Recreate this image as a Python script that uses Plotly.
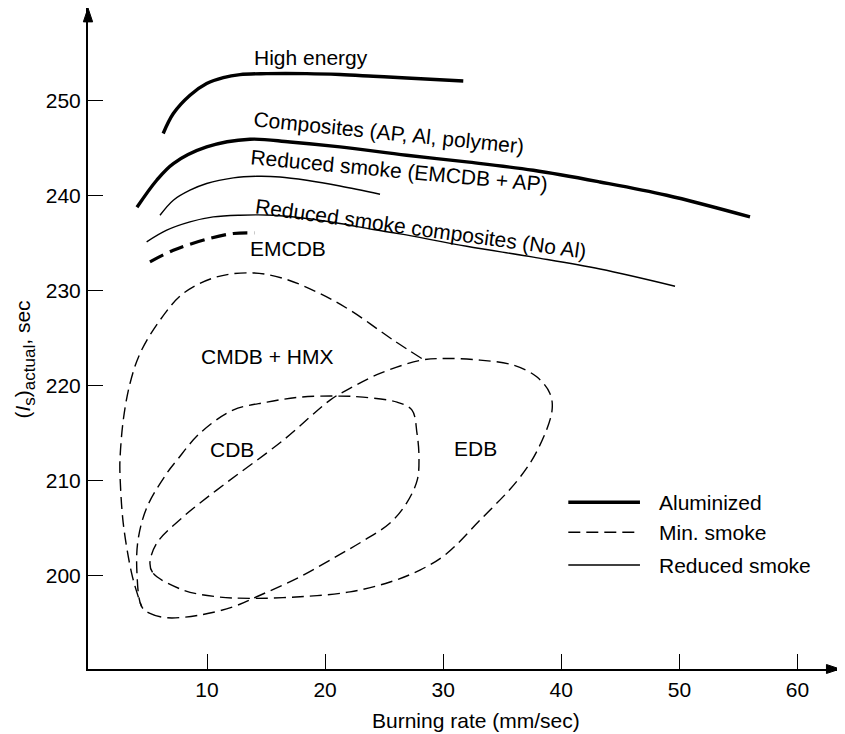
import plotly.graph_objects as go

# ---------------- data ----------------
high_energy_x = [6.29, 7.15, 8.56, 9.97, 11.38, 12.79, 15.05, 18.44, 21.26, 24.08, 26.9, 31.7]
high_energy_y = [246.57, 248.67, 250.6, 251.83, 252.46, 252.78, 252.88, 252.88, 252.78, 252.6, 252.42, 252.1]

composites_x = [4.07, 5.74, 7.15, 9.97, 13.64, 17.03, 21.26, 26.9, 31.99, 37.63, 43.27, 48.92, 55.98]
composites_y = [238.8, 241.65, 243.41, 245.16, 245.97, 245.68, 245.16, 244.28, 243.58, 242.7, 241.47, 240.07, 237.79]

emcdb_ap_x = [6.02, 7.15, 8.56, 9.97, 12.23, 14.21, 16.18, 18.44, 21.26, 24.65]
emcdb_ap_y = [237.96, 239.55, 240.6, 241.31, 241.9, 242.07, 242.0, 241.65, 241.05, 240.18]

no_al_x = [4.89, 6.59, 8.56, 10.53, 12.79, 15.61, 18.44, 21.26, 24.08, 26.34, 31.99, 37.63, 43.28, 49.63]
no_al_y = [235.16, 236.39, 237.26, 237.79, 237.97, 237.97, 237.62, 237.09, 236.46, 236.0, 234.7, 233.55, 232.3, 230.49]

emcdb_x = [5.17, 7.15, 9.97, 12.23, 14.06]
emcdb_y = [233.05, 234.28, 235.44, 236.04, 236.1]

cmdb_hmx_x = [28.18, 25.78, 22.11, 19.29, 16.46, 13.92, 10.82, 7.99, 6.02, 4.33, 3.48, 2.91,
              2.63, 2.63, 2.91, 3.62, 4.18, 4.47]
cmdb_hmx_y = [222.88, 224.81, 227.97, 229.89, 231.31, 231.89, 231.47, 229.73, 226.92, 223.41, 220.25, 216.39,
              212.18, 210.78, 205.52, 200.25, 197.79, 196.74]

cdb_x = [4.47, 5.17, 6.59, 9.41, 12.23, 14.21, 17.88, 21.0, 23.2, 25.5, 26.9, 27.8, 27.95, 27.78,
         27.36, 26.09, 23.21, 21.25, 17.88, 15.08, 12.2, 9.41, 7.46, 6.61, 4.92, 4.16, 4.07, 4.47]
cdb_y = [196.74, 196.04, 195.58, 195.86, 196.74, 197.79, 199.89, 202.07, 203.65, 205.55, 207.65, 210.07, 212.49, 215.02,
         217.44, 218.28, 218.81, 218.92, 218.81, 218.28, 217.44, 215.02, 212.18, 210.81, 207.23, 203.76, 200.28, 196.74]

edb_x = [5.17, 5.45, 7.99, 10.82, 13.64, 17.88, 22.11, 25.5, 28.03, 30.15, 33.12, 36.25, 37.94, 39.21, 39.04,
         37.92, 35.94, 33.12, 30.3, 28.18, 24.65, 21.83, 20.42, 16.46, 10.82, 7.99, 5.74, 5.17]
edb_y = [201.31, 200.25, 198.49, 197.79, 197.62, 197.79, 198.3, 199.34, 200.6, 202.18, 205.86, 209.97, 213.13, 217.34, 219.2,
         220.95, 222.18, 222.71, 222.88, 222.71, 221.31, 219.55, 218.5, 214.28, 209.02, 206.21, 203.41, 201.31]

x_ticks = [10, 20, 30, 40, 50, 60]
y_ticks = [200, 210, 220, 230, 240, 250]

# curve labels: text, x, y, angle, anchor
curve_labels = [
    ("High energy", 13.78, 254.63, 0, "left"),
    ("Composites (AP, Al, polymer)", 25.41, 246.65, 5.8, "center"),
    ("Reduced smoke (EMCDB + AP)", 26.26, 242.63, 5.3, "center"),
    ("Reduced smoke composites (No Al)", 28.08, 236.6, 7.8, "center"),
    ("EMCDB", 16.88, 234.46, 0, "center"),
    ("CMDB + HMX", 15.1, 223.1, 0, "center"),
    ("CDB", 12.09, 213.3, 0, "center"),
    ("EDB", 32.76, 213.4, 0, "center"),
]

legend_names = ["Aluminized", "Min. smoke", "Reduced smoke"]

# ---------------- styles ----------------
FONT = "Liberation Sans, Arial, Helvetica, sans-serif"
FS = 21
styles = {
    "Aluminized": dict(color="black", width=3.4, dash="solid"),
    "Min. smoke": dict(color="black", width=1.4, dash="12px,6px"),
    "Reduced smoke": dict(color="black", width=1.4, dash="solid"),
}
emcdb_style = dict(color="black", width=3.2, dash="15px,7px")

X_RANGE = [-0.076, 63.6]
Y_RANGE = [190.18, 259.79]

fig = go.Figure()


def add_curve(xs, ys, style, name):
    fig.add_trace(go.Scatter(x=xs, y=ys, mode="lines", name=name, showlegend=False,
                             line=dict(shape="spline", smoothing=1.0, **style),
                             hoverinfo="skip"))


add_curve(high_energy_x, high_energy_y, styles["Aluminized"], "High energy")
add_curve(composites_x, composites_y, styles["Aluminized"], "Composites")
add_curve(emcdb_ap_x, emcdb_ap_y, styles["Reduced smoke"], "Reduced smoke (EMCDB + AP)")
add_curve(no_al_x, no_al_y, styles["Reduced smoke"], "Reduced smoke composites")
add_curve(emcdb_x, emcdb_y, emcdb_style, "EMCDB")
add_curve(cmdb_hmx_x, cmdb_hmx_y, styles["Min. smoke"], "CMDB + HMX")
add_curve(cdb_x, cdb_y, styles["Min. smoke"], "CDB")
add_curve(edb_x, edb_y, styles["Min. smoke"], "EDB")

annotations = []
for text, x, y, ang, anchor in curve_labels:
    annotations.append(dict(x=x, y=y, xref="x", yref="y", text=text, showarrow=False,
                            textangle=ang, xanchor=anchor, yanchor="middle",
                            font=dict(family=FONT, size=FS, color="black")))

shapes = []
# axis arrowheads (paper coordinates: tip at the end of each axis)
shapes.append(dict(type="path", xref="paper", yref="paper",
                   path="M 0,1 L -0.0062,0.979 L 0.0062,0.979 Z",
                   fillcolor="black", line=dict(color="black", width=1)))
shapes.append(dict(type="path", xref="paper", yref="paper",
                   path="M 1,0 L 0.982,0.0068 L 0.982,-0.0068 Z",
                   fillcolor="black", line=dict(color="black", width=1)))

# axis titles
annotations.append(dict(x=-0.084, y=0.468, xref="paper", yref="paper",
                        text="(<i>I</i><sub><span style='font-size:17px'>s</span></sub>)"
                             "<sub><span style='font-size:17px'>actual</span></sub>, sec",
                        textangle=-90, showarrow=False, xanchor="center", yanchor="middle",
                        font=dict(family=FONT, size=21, color="black")))
annotations.append(dict(x=0.516, y=-0.0772, xref="paper", yref="paper",
                        text="Burning rate (mm/sec)", showarrow=False,
                        xanchor="center", yanchor="middle",
                        font=dict(family=FONT, size=FS, color="black")))

# manual legend
leg_x0, leg_x1, leg_tx = 0.6387, 0.734, 0.7563
leg_ys = [0.2522, 0.2068, 0.1573]
for name, ly in zip(legend_names, leg_ys):
    st = styles[name]
    shapes.append(dict(type="line", xref="paper", yref="paper", x0=leg_x0, x1=leg_x1, y0=ly, y1=ly,
                       line=dict(color=st["color"], width=st["width"], dash=st["dash"])))
    annotations.append(dict(x=leg_tx, y=ly, xref="paper", yref="paper", text=name, showarrow=False,
                            xanchor="left", yanchor="middle",
                            font=dict(family=FONT, size=FS, color="black")))

fig.update_layout(
    width=837, height=726,
    margin=dict(l=80, r=5, t=0, b=65, autoexpand=False),
    paper_bgcolor="white", plot_bgcolor="white",
    showlegend=False,
    annotations=annotations, shapes=shapes,
    font=dict(family=FONT, size=FS, color="black"),
)
fig.update_xaxes(range=X_RANGE, tickvals=x_ticks, ticks="inside", ticklen=15, tickwidth=1.2,
                 tickcolor="black", showline=True, linecolor="black", linewidth=2,
                 showgrid=False, zeroline=False, automargin=False, ticklabelstandoff=1,
                 tickfont=dict(family=FONT, size=FS, color="black"))
fig.update_yaxes(range=Y_RANGE, tickvals=y_ticks, ticks="inside", ticklen=15, tickwidth=1.2,
                 tickcolor="black", showline=True, linecolor="black", linewidth=2,
                 showgrid=False, zeroline=False, automargin=False, ticklabelstandoff=1,
                 tickfont=dict(family=FONT, size=FS, color="black"))

fig.write_html("out.html")
